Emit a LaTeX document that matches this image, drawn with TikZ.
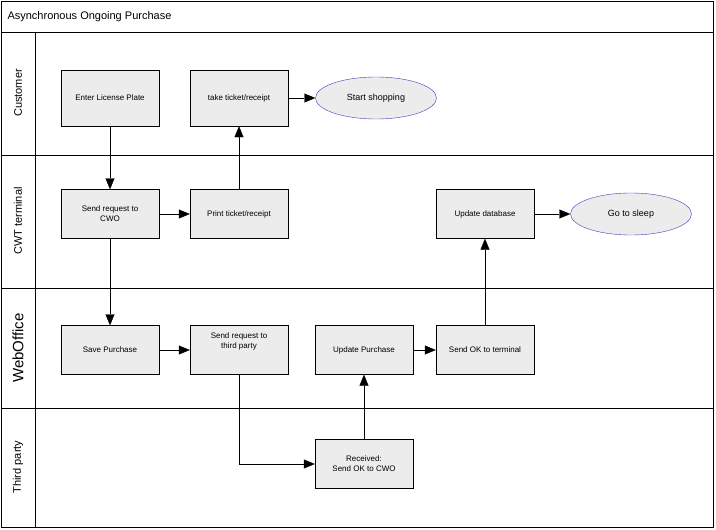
\documentclass[tikz,border=0pt]{standalone}
\usepackage{fontspec}
\setmainfont{Liberation Sans}
\usetikzlibrary{arrows.meta,shapes.geometric}
\tikzset{
  task/.style={draw,fill=gray!15,minimum width=98pt,minimum height=49pt,align=center,font=\fontsize{8}{10}\selectfont},
  goal/.style={ellipse,draw=blue!50!gray,fill=gray!15,minimum width=121pt,minimum height=42pt,font=\fontsize{9}{10}\selectfont},
  flow/.style={-{Triangle[length=11pt,width=9pt]}},
  lane/.style={rotate=90,font=\fontsize{11}{13}\selectfont}
}
\begin{document}
\begin{tikzpicture}[x=1pt,y=-1pt]
\useasboundingbox (0,0) rectangle (716,530);
\draw (1,1) rectangle (713,527);
\draw (1,32)--(713,32);
\draw (1,155)--(713,155) (1,288)--(713,288) (1,408)--(713,408);
\draw (35,32)--(35,527);
\node[anchor=west,font=\fontsize{11}{13}\selectfont] (title) at (4,17) {Asynchronous Ongoing Purchase};
\node[lane] (lcust) at (18,93) {Customer};
\node[lane] (lcwt) at (18,221) {CWT terminal};
\node[lane,font=\fontsize{15}{17}\selectfont] (lweb) at (18,348) {WebOffice};
\node[lane] (lthird) at (18,467) {Third party};
% customer
\node[task,minimum height=56pt] (plate) at (110,98) {Enter License Plate};
\node[task,minimum height=56pt] (take) at (239,98) {take ticket/receipt};
\node[goal] (shop) at (376,98) {Start shopping};
% terminal
\node[task] (req) at (110,214) {Send request to\\CWO};
\node[task] (print) at (239,214) {Print ticket/receipt};
\node[task] (db) at (485,214) {Update database};
\node[goal] (sleep) at (631,214) {Go to sleep};
% weboffice
\node[task] (save) at (110,350) {Save Purchase};
\node[task] (third) at (239,350) {Send request to\\third party\\[8pt]};
\node[task] (upd) at (364,350) {Update Purchase};
\node[task] (ok) at (485,350) {Send OK to terminal};
% third party
\node[task] (recv) at (364,464) {Received:\\Send OK to CWO};
\draw[flow] (plate)--(req);
\draw[flow] (req)--(print);
\draw[flow] (print)--(take);
\draw[flow] (take)--(shop);
\draw[flow] (req)--(save);
\draw[flow] (save)--(third);
\draw[flow] (third.south)|-(recv.west);
\draw[flow] (recv)--(upd);
\draw[flow] (upd)--(ok);
\draw[flow] (ok)--(db);
\draw[flow] (db)--(sleep);
\end{tikzpicture}
\end{document}
